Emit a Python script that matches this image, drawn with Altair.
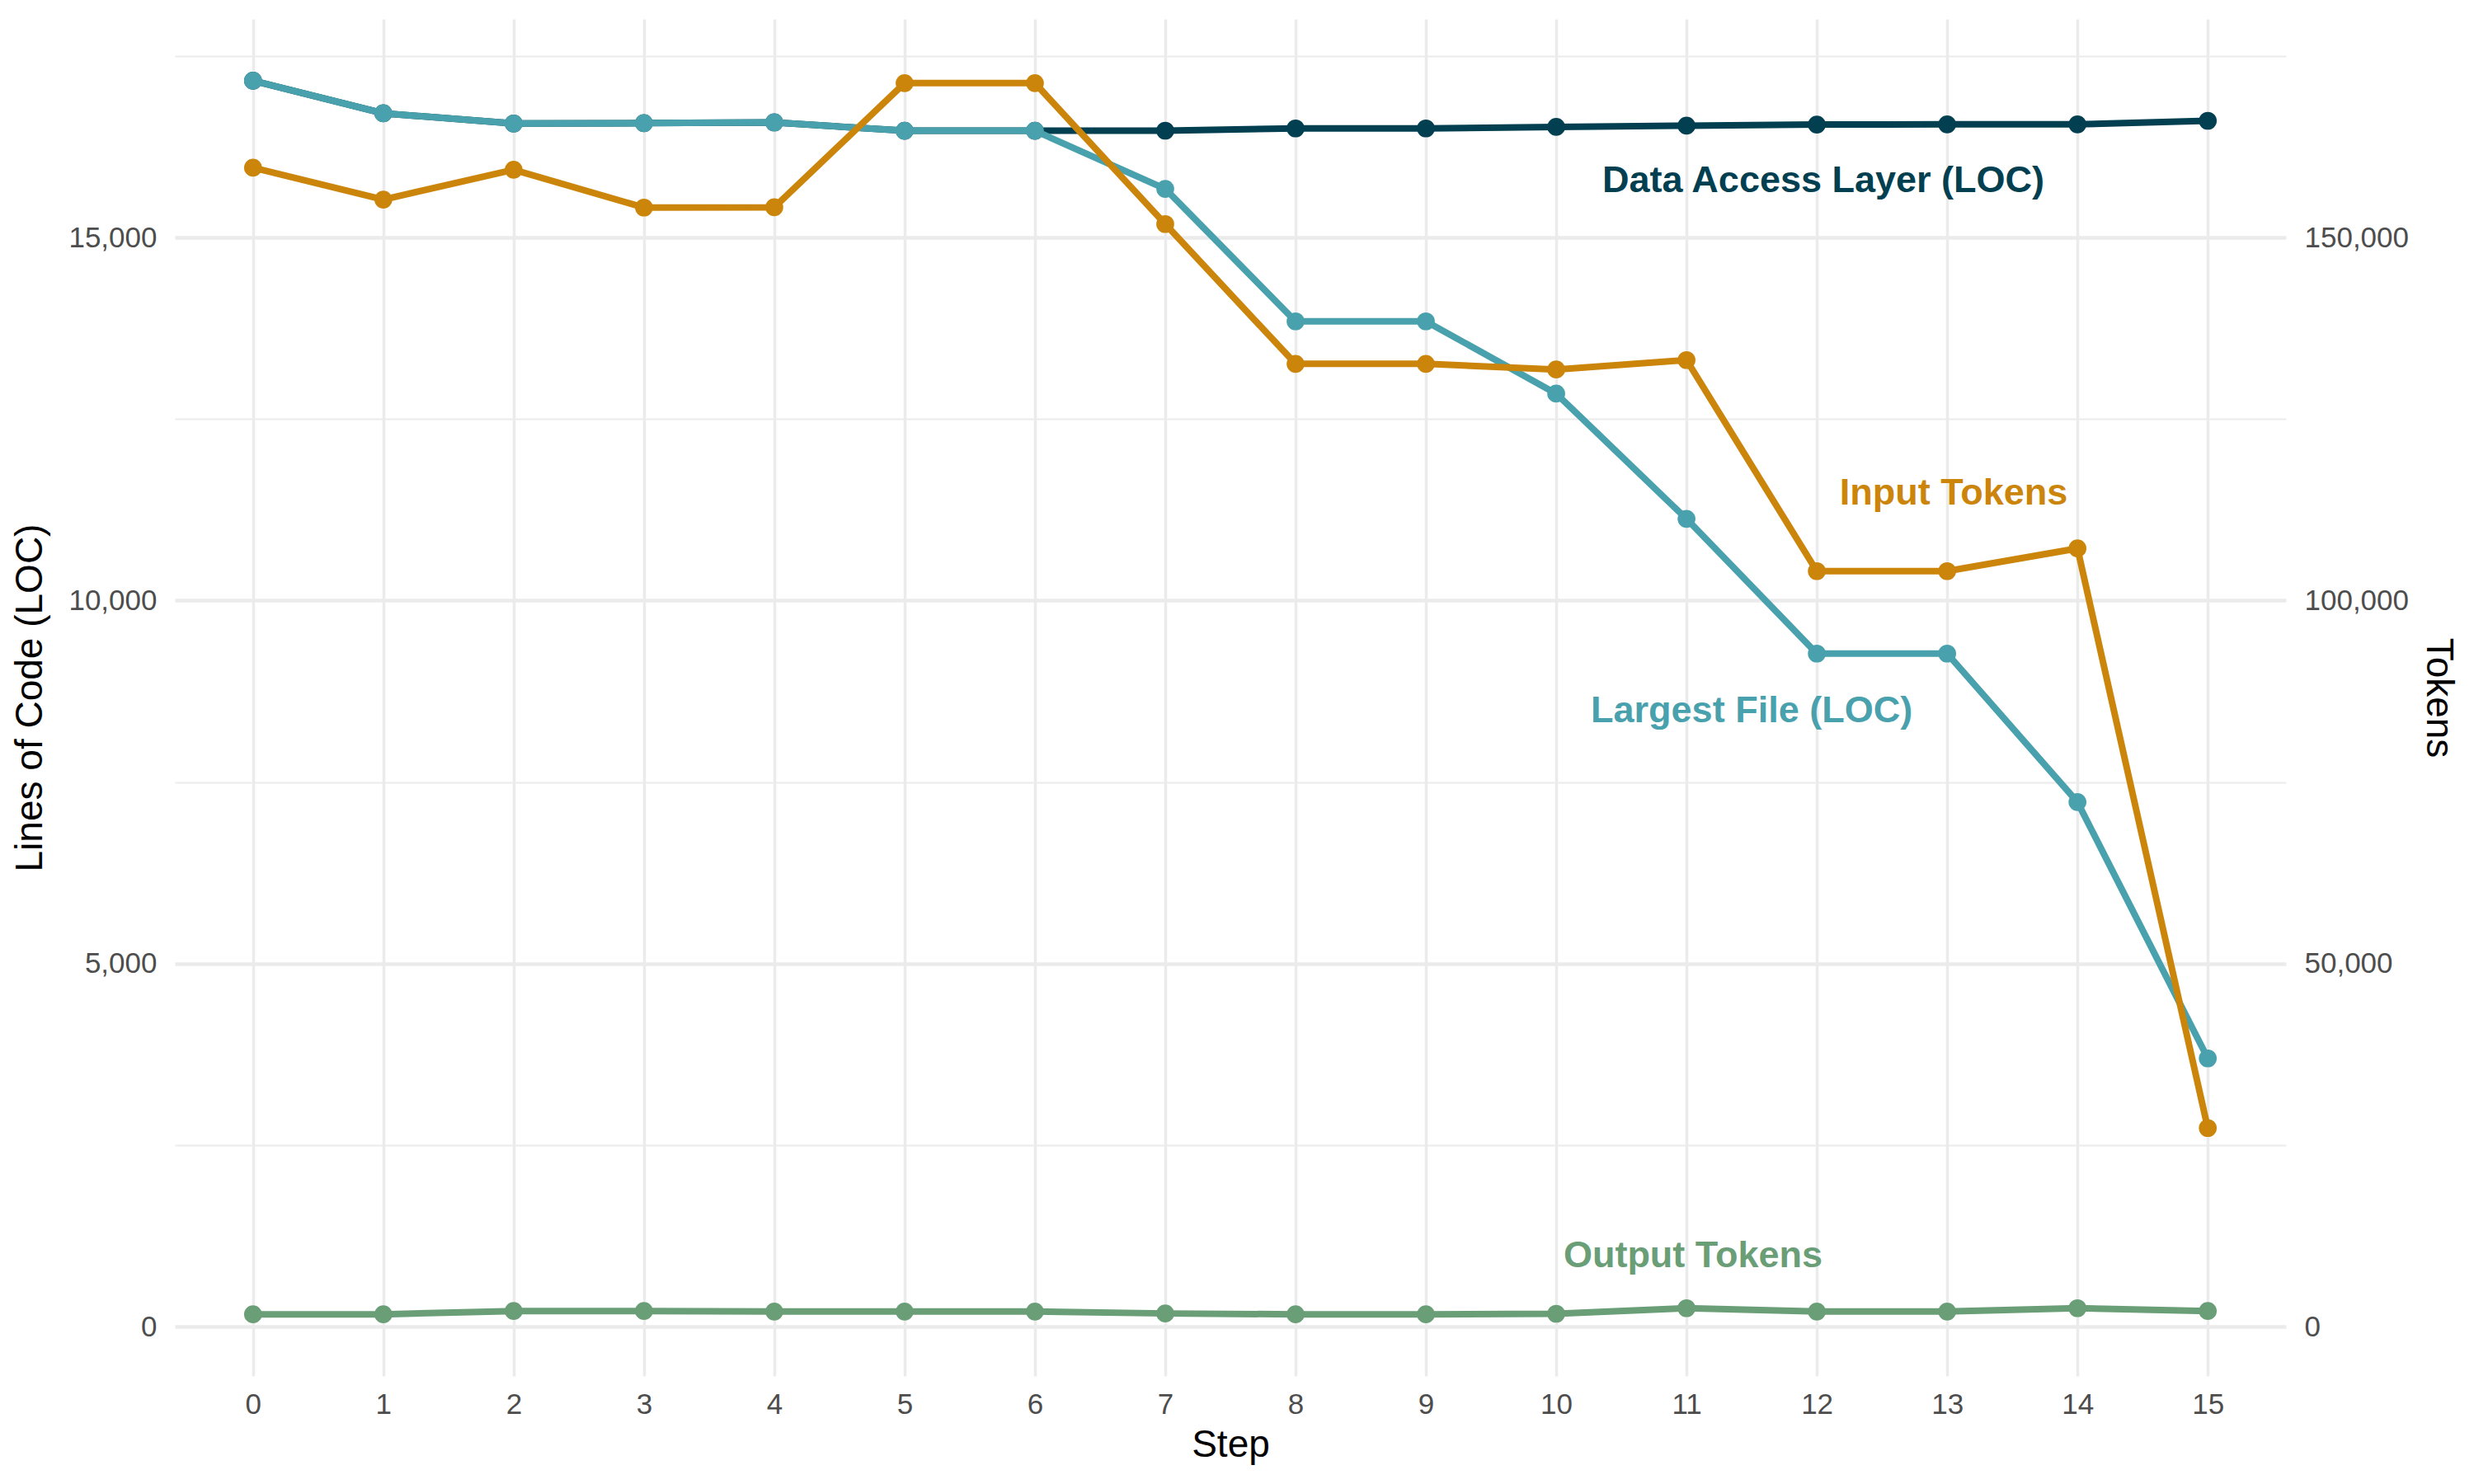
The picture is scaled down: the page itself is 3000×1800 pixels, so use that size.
import altair as alt
import pandas as pd

# ---------------- data ----------------
steps = list(range(16))
data_access_loc = [17160, 16710, 16570, 16575, 16585, 16470, 16470, 16471,
                   16502, 16502, 16523, 16540, 16555, 16558, 16558, 16607]
largest_file_loc = [17160, 16710, 16570, 16575, 16585, 16470, 16470, 15670,
                    13845, 13845, 12850, 11125, 9270, 9270, 7225, 3695]
input_tokens = [159610, 155220, 159340, 154120, 154160, 171260, 171260, 151850,
                132600, 132600, 131820, 133120, 104050, 104050, 107180, 27350]
output_tokens = [1700, 1700, 2160, 2160, 2080, 2080, 2080, 1820,
                 1700, 1700, 1780, 2540, 2080, 2080, 2540, 2160]

series_names = ["Data Access Layer (LOC)", "Largest File (LOC)", "Input Tokens", "Output Tokens"]
series_colors = ["#023F50", "#49A1AD", "#CC850B", "#6A9E77"]

# annotation labels (in data units: step, value on that series' axis)
loc_label_text = ["Data Access Layer (LOC)", "Largest File (LOC)"]
loc_label_step = [12.05, 11.5]
loc_label_value = [15780, 8480]
tok_label_text = ["Input Tokens", "Output Tokens"]
tok_label_step = [13.05, 11.05]
tok_label_value = [114800, 9800]

y_left_ticks = [0, 2500, 5000, 7500, 10000, 12500, 15000, 17500]
y_right_ticks = [0, 50000, 100000, 150000]
x_ticks = steps

# secondary axis: tokens = LOC * 10
SEC = 10
lo = min(min(data_access_loc), min(largest_file_loc), min(input_tokens) / SEC, min(output_tokens) / SEC)
hi = max(max(data_access_loc), max(largest_file_loc), max(input_tokens) / SEC, max(output_tokens) / SEC)
pad = 0.05 * (hi - lo)
loc_domain = [lo - pad, hi + pad]
tok_domain = [d * SEC for d in loc_domain]

FONT = "Liberation Sans"
GRID = "#EBEBEB"

color_scale = alt.Scale(domain=series_names, range=series_colors)

x_enc = alt.X("step:Q",
              scale=alt.Scale(domain=[-0.6, 15.6], nice=False, zero=False),
              axis=alt.Axis(values=x_ticks, title="Step", grid=True, gridColor=GRID,
                            gridWidth=3.5, ticks=False, tickSize=0, domain=False,
                            labelFontSize=35, labelColor="#4D4D4D", labelPadding=17,
                            titleFontSize=46, titleFontWeight="normal", titleColor="#000000",
                            titlePadding=9, labelFont=FONT, titleFont=FONT))

loc_axis = alt.Axis(values=y_left_ticks, title="Lines of Code (LOC)",
                    labelExpr="datum.value % 5000 === 0 ? format(datum.value, ',') : ''",
                    grid=True, gridColor=GRID,
                    gridWidth={"condition": {"test": "datum.value % 5000 === 0", "value": 4.3}, "value": 2.2},
                    ticks=False, tickSize=0, domain=False,
                    labelFontSize=35, labelColor="#4D4D4D", labelPadding=22,
                    titleFontSize=46, titleFontWeight="normal", titleColor="#000000",
                    titlePadding=22, labelFont=FONT, titleFont=FONT)
loc_y = lambda field: alt.Y(f"{field}:Q", scale=alt.Scale(domain=loc_domain, nice=False, zero=False), axis=loc_axis)

tok_axis = alt.Axis(values=y_right_ticks, title="Tokens", orient="right",
                    labelExpr="format(datum.value, ',')",
                    grid=False, ticks=False, tickSize=0, domain=False,
                    labelFontSize=35, labelColor="#4D4D4D", labelPadding=22,
                    titleFontSize=46, titleFontWeight="normal", titleColor="#000000",
                    titlePadding=12, labelFont=FONT, titleFont=FONT)
tok_y = lambda field: alt.Y(f"{field}:Q", scale=alt.Scale(domain=tok_domain, nice=False, zero=False), axis=tok_axis)


def series_df(name, values):
    return pd.DataFrame({"step": steps, "value": values, "series": name})


def series_layers(df, yfun):
    enc = dict(x=x_enc, y=yfun("value"),
               color=alt.Color("series:N", scale=color_scale, legend=None))
    line = alt.Chart(df).mark_line(strokeWidth=8).encode(**enc)
    pts = alt.Chart(df).mark_circle(size=470, opacity=1).encode(**enc)
    return [line, pts]


loc_layers = (series_layers(series_df(series_names[0], data_access_loc), loc_y)
              + series_layers(series_df(series_names[1], largest_file_loc), loc_y))
tok_layers = (series_layers(series_df(series_names[2], input_tokens), tok_y)
              + series_layers(series_df(series_names[3], output_tokens), tok_y))

loc_lab = pd.DataFrame({"series": loc_label_text, "step": loc_label_step, "value": loc_label_value})
tok_lab = pd.DataFrame({"series": tok_label_text, "step": tok_label_step, "value": tok_label_value})

text_kw = dict(font=FONT, fontSize=45, fontWeight="bold", align="center", baseline="middle")
loc_text = alt.Chart(loc_lab).mark_text(**text_kw).encode(
    x=x_enc, y=loc_y("value"), text="series:N",
    color=alt.Color("series:N", scale=color_scale, legend=None))
tok_text = alt.Chart(tok_lab).mark_text(**text_kw).encode(
    x=x_enc, y=tok_y("value"), text="series:N",
    color=alt.Color("series:N", scale=color_scale, legend=None))

loc_group = alt.layer(*loc_layers, loc_text)
tok_group = alt.layer(*tok_layers, tok_text)

chart = alt.layer(loc_group, tok_group).resolve_scale(y="independent").properties(
    width=2560, height=1646,
    autosize=alt.AutoSizeParams(type="none"),
    padding={"left": 204, "top": 15, "right": 220, "bottom": 123},
    background="white",
).configure_view(stroke=None)

chart.save("out.html", embed_options={"renderer": "svg", "actions": False})
